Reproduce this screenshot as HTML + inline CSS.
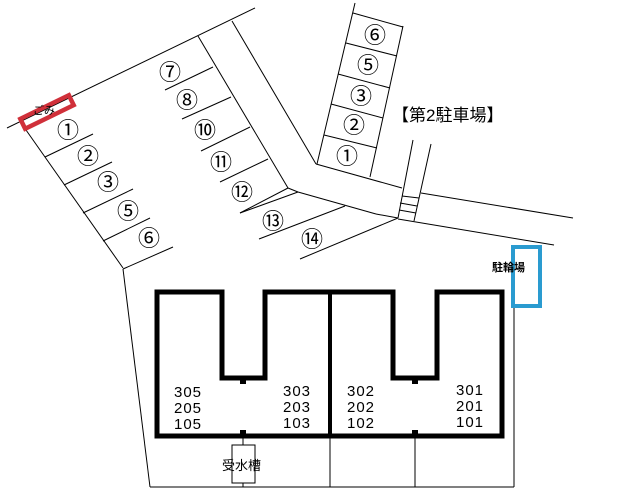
<!DOCTYPE html>
<html><head><meta charset="utf-8"><style>html,body{margin:0;padding:0;background:#fff}svg{display:block}</style></head>
<body>
<svg width="638" height="491" viewBox="0 0 638 491" xmlns="http://www.w3.org/2000/svg" font-family="'Liberation Sans','Noto Sans CJK JP',sans-serif">
<g stroke="#000" stroke-width="1" fill="none">
<line x1="7" y1="128" x2="255" y2="8"/>
<line x1="26" y1="130" x2="123" y2="268"/>
<line x1="45" y1="157" x2="93" y2="134"/>
<line x1="64" y1="185" x2="112" y2="162"/>
<line x1="83" y1="213" x2="133" y2="189"/>
<line x1="103" y1="241" x2="150" y2="218"/>
<line x1="123" y1="269" x2="173" y2="247"/>
<line x1="198" y1="36" x2="288" y2="188"/>
<line x1="165" y1="90" x2="213" y2="67"/>
<line x1="182" y1="119" x2="231" y2="97"/>
<line x1="201" y1="151" x2="250" y2="127"/>
<line x1="220" y1="182" x2="268" y2="159"/>
<line x1="288" y1="188" x2="240" y2="213"/>
<line x1="298" y1="192" x2="240" y2="213"/>
<line x1="288" y1="188" x2="298" y2="192"/>
<line x1="259" y1="239" x2="345" y2="206"/>
<line x1="300" y1="259" x2="398" y2="218"/>
<line x1="232" y1="21" x2="316" y2="164"/>
<line x1="316" y1="164" x2="402" y2="188"/>
<line x1="421" y1="193" x2="573" y2="218"/>
<line x1="298" y1="192" x2="376" y2="214"/>
<line x1="398" y1="219" x2="554" y2="245"/>
<line x1="376" y1="214" x2="398" y2="218"/>
<line x1="413" y1="140" x2="398" y2="218"/>
<line x1="431" y1="144" x2="414" y2="221"/>
<line x1="402" y1="196" x2="419" y2="198"/>
<line x1="400" y1="203" x2="417" y2="206"/>
<line x1="399" y1="210" x2="416" y2="213"/>
<line x1="355" y1="3" x2="317" y2="164"/>
<line x1="403" y1="26" x2="370" y2="177"/>
<line x1="353" y1="13" x2="403" y2="27"/>
<line x1="346" y1="43" x2="397" y2="56"/>
<line x1="338" y1="74" x2="390" y2="88"/>
<line x1="331" y1="104" x2="383" y2="118"/>
<line x1="324" y1="135" x2="377" y2="148"/>
<line x1="123" y1="269" x2="150" y2="487"/>
<line x1="150" y1="487" x2="514" y2="487"/>
<line x1="514" y1="306" x2="514" y2="487"/>
<line x1="330" y1="436" x2="330" y2="487"/>
<line x1="415" y1="436" x2="415" y2="487"/>
<line x1="243" y1="436" x2="243" y2="487"/>
<rect x="232" y="445" width="23" height="38" fill="#fff"/>
</g>
<path d="M157 292 H222 V378 H265 V292 H393 V378 H437 V292 H502 V436 H157 Z" fill="none" stroke="#000" stroke-width="5"/>
<line x1="330" y1="292" x2="330" y2="436" stroke="#000" stroke-width="4"/>
<g fill="#000"><rect x="240" y="379" width="6" height="5"/><rect x="412" y="379" width="6" height="5"/><rect x="240" y="430" width="6" height="5"/><rect x="412" y="430" width="6" height="5"/></g>
<g transform="translate(47,112) rotate(-26)"><rect x="-27" y="-5.5" width="54" height="11" fill="none" stroke="#d0303a" stroke-width="4.5"/></g>
<text x="33" y="114" font-size="11">ごみ</text>
<rect x="513" y="247" width="27" height="59" fill="none" stroke="#2a9bd0" stroke-width="4"/>
<text x="492" y="271" font-size="11" font-weight="bold">駐輪場</text>
<text x="392" y="121" font-size="17">【第2駐車場】</text>
<g font-size="22" text-anchor="middle">
<text x="68" y="138">①</text><text x="88" y="164">②</text><text x="108" y="190">③</text><text x="128" y="219">⑤</text><text x="149" y="246">⑥</text>
<text x="170" y="80">⑦</text><text x="187" y="108">⑧</text><text x="205" y="138">⑩</text><text x="221" y="170">⑪</text><text x="242" y="200">⑫</text>
<text x="273" y="229">⑬</text><text x="312" y="247">⑭</text>
<text x="375" y="43">⑥</text><text x="368" y="73">⑤</text><text x="361" y="104">③</text><text x="354" y="133">②</text><text x="347" y="164">①</text>
</g>
<g font-size="15" text-anchor="middle" letter-spacing="1">
<text x="188" y="397">305</text><text x="188" y="413">205</text><text x="188" y="429">105</text>
<text x="297" y="396">303</text><text x="297" y="412">203</text><text x="297" y="428">103</text>
<text x="361" y="396">302</text><text x="361" y="412">202</text><text x="361" y="428">102</text>
<text x="470" y="395">301</text><text x="470" y="411">201</text><text x="470" y="427">101</text>
</g>
<text x="222" y="470" font-size="13">受水槽</text>
</svg>
</body></html>
